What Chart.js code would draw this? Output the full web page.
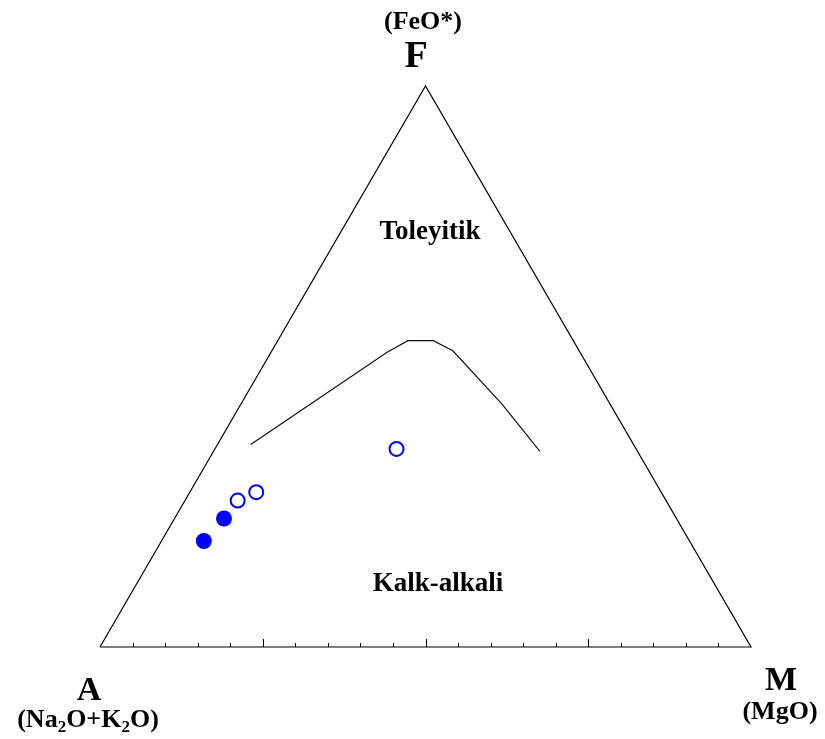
<!DOCTYPE html>
<html>
<head>
<meta charset="utf-8">
<script src="https://cdn.jsdelivr.net/npm/chart.js@4.4.0/dist/chart.umd.min.js"></script>
<style>
  html, body { margin: 0; padding: 0; background: #ffffff; }
  #wrap { width: 825px; height: 739px; }
</style>
</head>
<body>
<div id="wrap"><canvas id="c" width="825" height="739"></canvas></div>
<script>
// ---- Data (ternary percentages: A = Na2O+K2O, F = FeO*, M = MgO) ----
const vertexLabels = ["A", "F", "M"];
const vertexOxides = ["(Na2O+K2O)", "(FeO*)", "(MgO)"];
const fieldLabels = ["Toleyitik", "Kalk-alkali"];

// Samples drawn as filled circles
const filledA = [74.6, 69.5];
const filledF = [18.9, 22.9];
const filledM = [6.5, 7.6];

// Samples drawn as open circles
const openA = [65.8, 62.2, 36.8];
const openF = [26.1, 27.6, 35.3];
const openM = [8.1, 10.2, 27.9];

// Tholeiitic / calc-alkaline boundary (Irvine & Baragar style)
const boundaryA = [58.8, 29.7, 25.4, 21.5, 19.4, 16.6, 15.0];
const boundaryF = [36.1, 52.5, 54.6, 54.6, 52.8, 43.3, 34.9];
const boundaryM = [5.1, 17.8, 20.0, 23.9, 27.8, 40.1, 50.1];

// Tick marks along the A–M side (percent of M)
const tickValues = [5,10,15,20,25,30,35,40,45,50,55,60,65,70,75,80,85,90,95];
const majorTicks = [25, 50, 75];

// ---- Ternary -> cartesian (x: 0 at A, 100 at M; y: F percent) ----
function toXY(a, f, m) {
  const s = a + f + m;
  const F = f / s * 100, M = m / s * 100;
  return { x: M + F / 2, y: F };
}
function series(A, F, M) { return A.map((a, i) => toXY(a, F[i], M[i])); }

const triangle = [toXY(100,0,0), toXY(0,100,0), toXY(0,0,100), toXY(100,0,0)];

const ternaryText = {
  id: 'ternaryText',
  afterDraw(chart) {
    const ctx = chart.ctx;
    const xs = chart.scales.x, ys = chart.scales.y;
    // ticks along base
    ctx.save();
    ctx.strokeStyle = '#000';
    ctx.lineWidth = 1;
    const y0 = ys.getPixelForValue(0);
    tickValues.forEach(v => {
      const px = Math.round(xs.getPixelForValue(v)) + 0.5;
      const len = majorTicks.includes(v) ? 8 : 4;
      ctx.beginPath();
      ctx.moveTo(px, y0);
      ctx.lineTo(px, y0 - len);
      ctx.stroke();
    });
    ctx.restore();

    ctx.save();
    ctx.fillStyle = '#000';
    ctx.textAlign = 'center';
    ctx.textBaseline = 'alphabetic';
    const serif = '"Liberation Serif", "Times New Roman", serif';

    // F vertex
    ctx.font = 'bold 26px ' + serif;
    ctx.fillText(vertexOxides[1], 423, 29);
    ctx.font = 'bold 38px ' + serif;
    ctx.fillText(vertexLabels[1], 416, 67);

    // A vertex
    ctx.font = 'bold 34px ' + serif;
    ctx.fillText(vertexLabels[0], 89, 700);
    drawSub(ctx, vertexOxides[0], 88, 727, 'bold 26px ' + serif, 'bold 17px ' + serif);

    // M vertex
    ctx.font = 'bold 34px ' + serif;
    ctx.fillText(vertexLabels[2], 781, 690);
    ctx.font = 'bold 26px ' + serif;
    ctx.fillText(vertexOxides[2], 780, 719);

    // Field labels
    ctx.font = 'bold 27px ' + serif;
    ctx.fillText(fieldLabels[0], 430, 239);
    ctx.fillText(fieldLabels[1], 438, 591);
    ctx.restore();
  }
};

// draws text where digits become subscripts
function drawSub(ctx, text, cx, base, font, subFont) {
  const parts = [];
  for (const ch of text) {
    const sub = /[0-9]/.test(ch);
    const last = parts[parts.length - 1];
    if (last && last.sub === sub) last.t += ch; else parts.push({ t: ch, sub });
  }
  let total = 0;
  parts.forEach(p => { ctx.font = p.sub ? subFont : font; p.w = ctx.measureText(p.t).width; total += p.w; });
  let x = cx - total / 2;
  ctx.textAlign = 'left';
  parts.forEach(p => {
    ctx.font = p.sub ? subFont : font;
    ctx.fillText(p.t, x, p.sub ? base + 5 : base);
    x += p.w;
  });
  ctx.textAlign = 'center';
}

new Chart(document.getElementById('c'), {
  type: 'scatter',
  data: {
    datasets: [
      { label: 'triangle', data: triangle, showLine: true, borderColor: '#000', borderWidth: 1.2,
        pointRadius: 0, fill: false, tension: 0 },
      { label: 'boundary', data: series(boundaryA, boundaryF, boundaryM), showLine: true,
        borderColor: '#111', borderWidth: 1.2, pointRadius: 0, fill: false, tension: 0 },
      { label: 'filled', data: series(filledA, filledF, filledM), pointRadius: 8,
        pointBackgroundColor: '#0000ff', pointBorderColor: '#0000ff', pointBorderWidth: 0 },
      { label: 'open', data: series(openA, openF, openM), pointRadius: 7,
        pointBackgroundColor: '#ffffff', pointBorderColor: '#0000ff', pointBorderWidth: 2 }
    ]
  },
  options: {
    responsive: false,
    animation: false,
    devicePixelRatio: 1,
    clip: false,
    layout: { padding: { left: 100, right: 74, top: 86, bottom: 92 } },
    plugins: { legend: { display: false }, tooltip: { enabled: false } },
    scales: {
      x: { type: 'linear', min: 0, max: 100, display: false },
      y: { type: 'linear', min: 0, max: 100, display: false }
    }
  },
  plugins: [ternaryText]
});
</script>
</body>
</html>
